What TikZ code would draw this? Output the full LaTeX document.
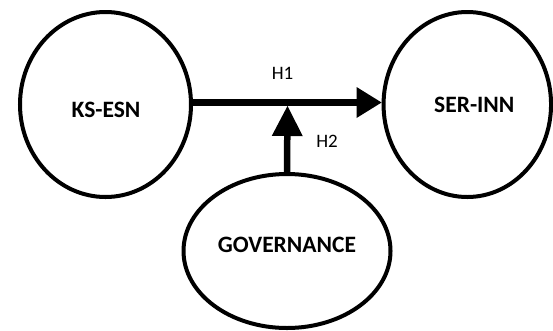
\documentclass[tikz,border=0pt]{standalone}
\usepackage{fontspec}
\setmainfont{Carlito}
\usetikzlibrary{shapes.geometric,arrows.meta}
\newcommand{\offsettext}[3]{\raisebox{-#2}{\hspace*{#1}#3}}
\begin{document}
\begin{tikzpicture}[x=1pt,y=-1pt,
  construct/.style={ellipse, draw=black, line width=4pt, inner sep=0pt,
    font=\fontsize{23.5}{26}\selectfont\bfseries, text height=0.632em, text depth=0pt},
  hyp/.style={font=\fontsize{19}{21}\selectfont, inner sep=0pt, text height=0.632em, text depth=0pt},
  bigarrow/.style={line width=6.5pt, -{Triangle[length=#1, width=31pt, line width=0pt]}}]
\useasboundingbox (0,0) rectangle (553,330);
\node[construct, minimum width=171pt, minimum height=185pt] (ks) at (105.5,104.5) {\offsettext{1pt}{9.5pt}{KS-ESN}};
\node[construct, minimum width=167.5pt, minimum height=185pt] (ser) at (467.3,104.5) {\offsettext{14pt}{4.5pt}{SER-INN}};
\node[construct, minimum width=207pt, minimum height=154pt] (gov) at (287,251) {\offsettext{0pt}{-2pt}{GOVERNANCE}};
\coordinate (m) at (287.5,106);
\draw[bigarrow=25pt] ([yshift=2pt]ks.east) -- ([yshift=2pt]ser.west);
\draw[bigarrow=30pt] (gov.north) -- (m);
\node[hyp] (h1) at (282.5,76) {H1};
\node[hyp] (h2) at (327,144) {H2};
\end{tikzpicture}
\end{document}
